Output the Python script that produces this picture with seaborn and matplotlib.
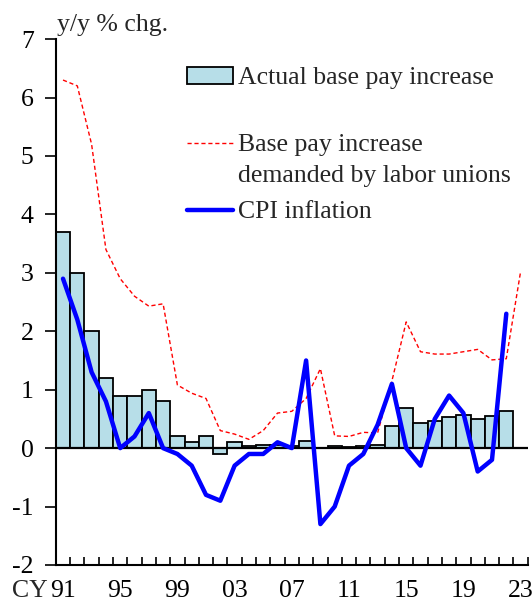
import numpy as np
import pandas as pd
import matplotlib
matplotlib.use('Agg')
import matplotlib.pyplot as plt
import matplotlib.transforms as mtransforms
from matplotlib.patches import Patch
from matplotlib.lines import Line2D
import seaborn as sns

# data, CY1991-2023
years = list(range(1991, 2024))
year_labels = [f"{y % 100:02d}" for y in years]

actual = [3.7, 3.0, 2.0, 1.2, 0.9, 0.9, 1.0, 0.8, 0.2, 0.1, 0.2, -0.1, 0.1, 0.03,
          0.06, 0.06, 0.04, 0.13, 0.01, 0.03, 0.02, 0.03, 0.05, 0.38, 0.69, 0.43,
          0.47, 0.54, 0.57, 0.50, 0.55, 0.63, np.nan]
demanded = [6.3, 6.2, 5.2, 3.4, 2.9, 2.6, 2.43, 2.47, 1.08, 0.94, 0.85, 0.3, 0.24,
            0.15, 0.3, 0.6, 0.63, 0.85, 1.36, 0.21, 0.2, 0.27, 0.26, 1.15, 2.16,
            1.65, 1.61, 1.61, 1.65, 1.69, 1.51, 1.53, 3.02]
cpi = [2.9, 2.2, 1.3, 0.8, 0.0, 0.2, 0.6, 0.0, -0.1, -0.3, -0.8, -0.9, -0.3, -0.1,
       -0.1, 0.1, 0.0, 1.5, -1.3, -1.0, -0.3, -0.1, 0.4, 1.1, 0.0, -0.3, 0.5, 0.9,
       0.6, -0.4, -0.2, 2.3, np.nan]

df = pd.DataFrame({'year': year_labels, 'actual': actual,
                   'demanded': demanded, 'cpi': cpi})
df['pos'] = np.arange(len(df))

sns.set_theme(style='ticks')
plt.rcParams['font.family'] = ['Liberation Serif', 'DejaVu Serif']
plt.rcParams['axes.unicode_minus'] = False
fs = 18.5
plt.rcParams['font.size'] = fs

bar_col = '#B7DEE8'
red_ls = (0, (3, 2))

fig = plt.figure(figsize=(5.32, 6.04), dpi=100)
ax = fig.add_axes([0.105, 0.0646, 0.887, 0.8706])

sns.barplot(data=df, x='year', y='actual', order=year_labels, color=bar_col,
            saturation=1, edgecolor='black', linewidth=1.3, width=1.0, ax=ax,
            zorder=2)
ax.axhline(0, color='black', lw=1.6, zorder=3)
sns.lineplot(data=df, x='pos', y='demanded', color='red', lw=1.0,
             linestyle=red_ls, ax=ax, zorder=4)
sns.lineplot(data=df, x='pos', y='cpi', color='#0000FF', lw=3.2, ax=ax, zorder=5)

ax.set_xlim(-0.5, 32.5)
ax.set_ylim(-2, 7)
ax.set_yticks(range(-2, 8))
ax.set_xlabel('')
ax.set_ylabel('')
sns.despine(ax=ax)
for s in ['left', 'bottom']:
    ax.spines[s].set_linewidth(1.5)
    ax.spines[s].set_color('black')

ax.set_xticks(df['pos'][::4])
ax.set_xticklabels(year_labels[::4])
ax.set_xticks(np.arange(-0.5, 33, 1), minor=True)
ax.tick_params(axis='x', which='major', length=0, pad=11, labelsize=fs,
               colors='black')
ax.tick_params(axis='x', which='minor', direction='in', length=6, width=1.2,
               color='black')
ax.tick_params(axis='y', direction='out', length=8, width=1.2, pad=8,
               labelsize=fs, colors='black')

# "CY" prefix before the first year label
off = mtransforms.ScaledTranslation(-0.085, -11 / 72, fig.dpi_scale_trans)
trans = mtransforms.blended_transform_factory(ax.transData, ax.transAxes) + off
ax.text(-0.5, 0, 'CY', transform=trans, ha='right', va='top', fontsize=fs)

fig.text(57 / 532, 1 - 31 / 604, 'y/y % chg.', ha='left', va='baseline',
         fontsize=fs)

# legend, built as three pieces to match the uneven spacing
leg_kw = dict(frameon=False, loc='center left', borderpad=0, borderaxespad=0,
              handlelength=1.79, handletextpad=0.2, fontsize=fs,
              bbox_transform=fig.transFigure)
x0 = 187 / 532
leg1 = ax.legend(handles=[Patch(facecolor=bar_col, edgecolor='black', lw=1.3)],
                 labels=['Actual base pay increase'],
                 bbox_to_anchor=(x0, 1 - 78 / 604), **leg_kw)
ax.add_artist(leg1)
leg2 = ax.legend(handles=[Line2D([], [], color='red', lw=1.0, linestyle=red_ls)],
                 labels=['Base pay increase'],
                 bbox_to_anchor=(x0, 1 - 145 / 604), **leg_kw)
ax.add_artist(leg2)
fig.text(238 / 532, 1 - 182 / 604, 'demanded by labor unions', ha='left',
         va='baseline', fontsize=fs)
ax.legend(handles=[Line2D([], [], color='#0000FF', lw=3.2)],
          labels=['CPI inflation'],
          bbox_to_anchor=(x0, 1 - 212 / 604), **leg_kw)

fig.savefig('out.png', dpi=100)
